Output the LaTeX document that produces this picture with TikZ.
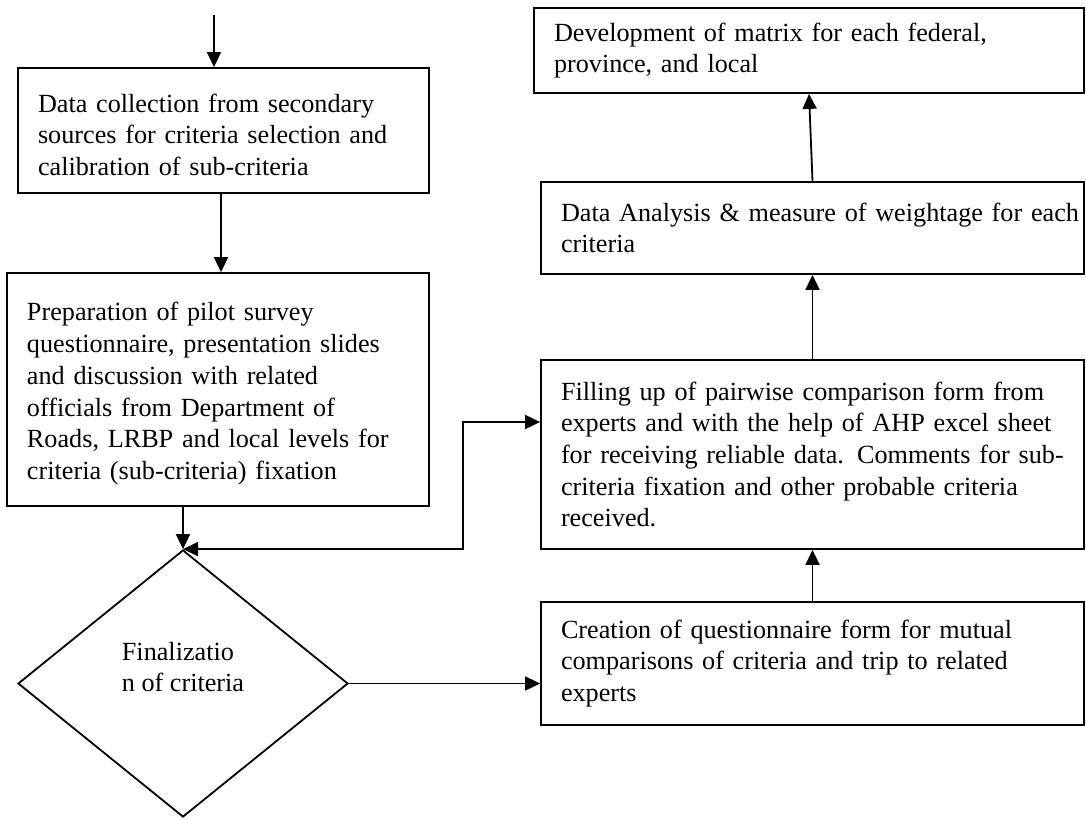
\documentclass[tikz,border=0pt]{standalone}
\usepackage{fontspec}
\setmainfont{Liberation Serif}
\usetikzlibrary{shapes.geometric,arrows.meta}
\newcommand{\firstlinestrut}{\rule{0pt}{27pt}}
\begin{document}
\begin{tikzpicture}[x=1pt,y=-1pt,
  every node/.style={font=\fontsize{26.2}{31.7}\selectfont},
  flowbox/.style={draw,line width=1.8pt,rectangle,inner xsep=20pt,inner ysep=0pt,align=left},
  decision/.style={draw,line width=1.8pt,shape=diamond,inner sep=0pt,minimum width=330pt,minimum height=267pt},
  flowarrow/.style={line width=1.8pt,>={Triangle[length=15pt,width=14pt]}}]
\useasboundingbox (0,0) rectangle (1086,819);
% left column
\node[flowbox,text width=371pt,minimum height=125pt] (b1) at (223.5,130.5)
  {\firstlinestrut\mbox{Data collection from secondary}\\\mbox{sources for criteria selection and}\\\mbox{calibration of sub-criteria}};
\node[flowbox,text width=382pt,minimum height=233pt] (b2) at (218,389.5)
  {\firstlinestrut\mbox{Preparation of pilot survey}\\\mbox{questionnaire, presentation slides}\\\mbox{and discussion with related}\\\mbox{officials from Department of}\\\mbox{Roads, LRBP and local levels for}\\\mbox{criteria (sub-criteria) fixation}};
\node[decision] (dec) at (183,683.5) {};
\node[align=left] (dect) at (183,667) {Finalizatio\\n of criteria};
% right column
\node[flowbox,text width=510pt,minimum height=85pt] (dev) at (809,50.5)
  {\mbox{Development of matrix for each federal,}\\\mbox{province, and local}};
\node[flowbox,text width=503pt,minimum height=92pt] (da) at (812.5,228)
  {\mbox{Data Analysis \& measure of weightage for each}\\\mbox{criteria}};
\node[flowbox,text width=503pt,minimum height=189pt] (fill) at (812.5,454.5)
  {\mbox{Filling up of pairwise comparison form from}\\\mbox{experts and with the help of AHP excel sheet}\\\mbox{for receiving reliable data. Comments for sub-}\\\mbox{criteria fixation and other probable criteria}\\\mbox{received.}};
\node[flowbox,text width=503pt,minimum height=123pt] (cr) at (812.5,663.5)
  {\mbox{Creation of questionnaire form for mutual}\\\mbox{comparisons of criteria and trip to related}\\\mbox{experts}};
% connectors
\coordinate (start) at (214,15);
\coordinate (fbk) at (463,0);
\coordinate (fillin) at ([yshift=32.5pt]fill.west);
\draw[flowarrow,->] (start) -- (start |- b1.north);
\draw[flowarrow,->] ([xshift=-2.5pt]b1.south) -- ([xshift=-2.5pt]b1.south |- b2.north);
\draw[flowarrow,->] (dec.north |- b2.south) -- (dec.north);
\draw[flowarrow,<->] (dec.north) -- (dec.north -| fbk) -- (fbk |- fillin) -- (fillin);
\draw[flowarrow,->] (dec.east) -- (dec.east -| cr.west);
\draw[flowarrow,->] (cr.north) -- (fill.south);
\draw[flowarrow,->] (fill.north) -- (da.south);
\draw[flowarrow,->] (da.north) -- (dev.south);
\end{tikzpicture}
\end{document}
